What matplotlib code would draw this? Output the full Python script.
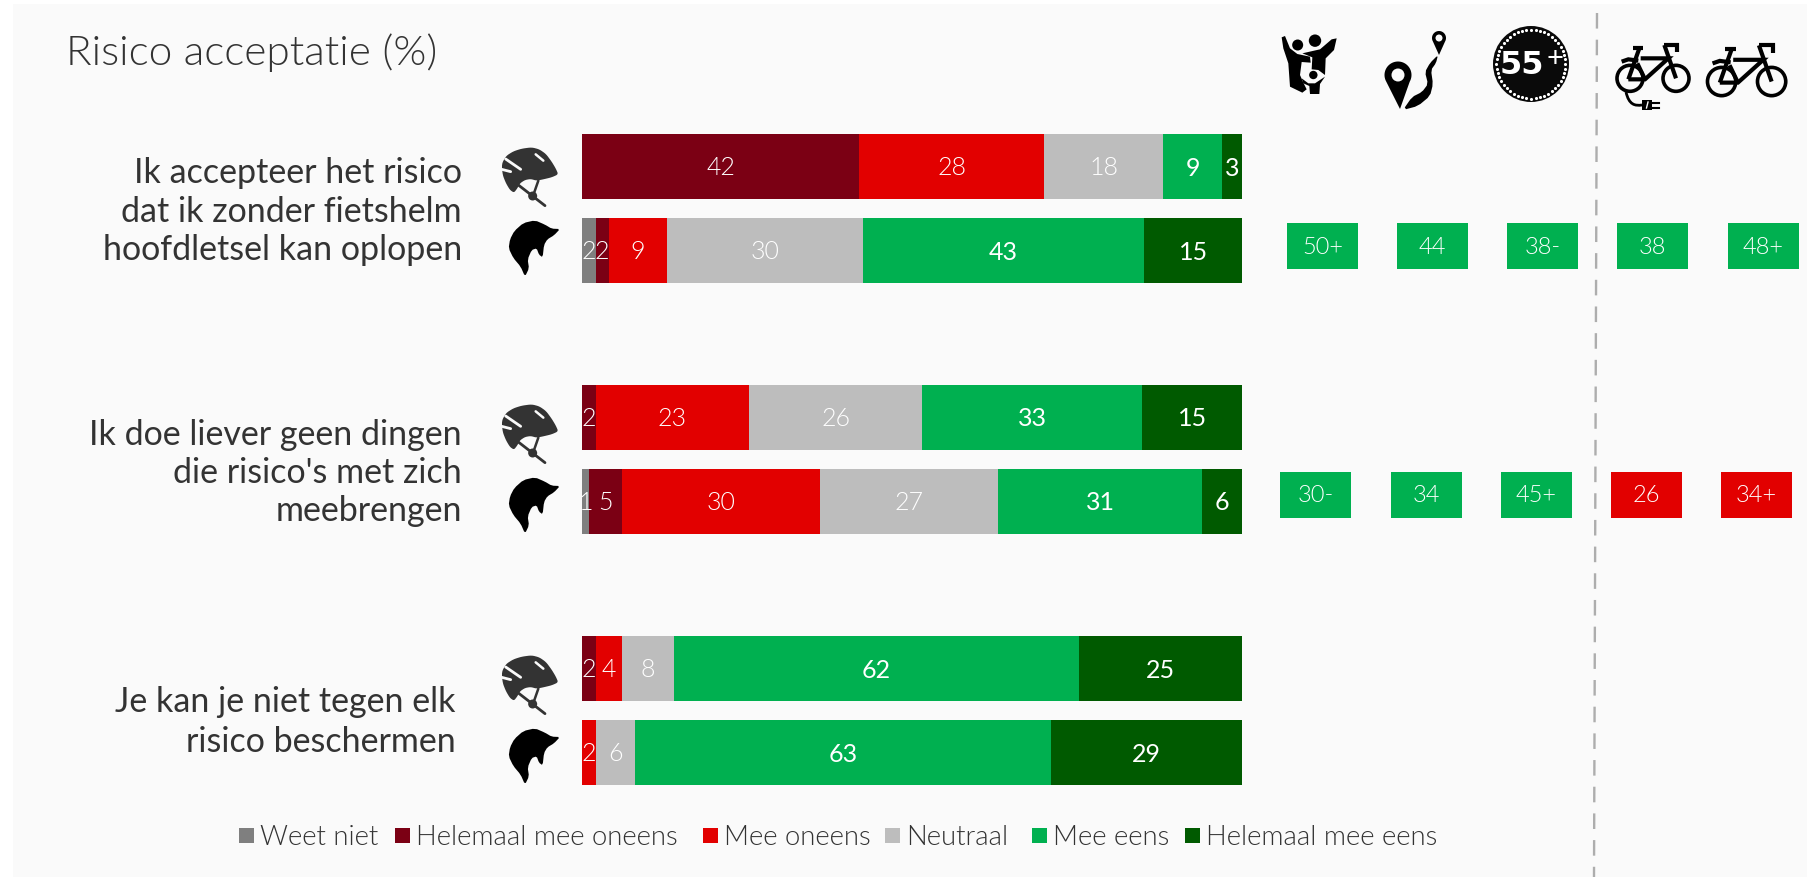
import numpy as np
import matplotlib
matplotlib.use("Agg")
import matplotlib.pyplot as plt
from matplotlib.patches import Rectangle, Circle, Polygon, PathPatch
from matplotlib.path import Path

W, H = 1808, 877
FONT = "Lato"
LIGHT = 300
TXT = "#333333"

# ---------- data ----------
categories = ["Weet niet", "Helemaal mee oneens", "Mee oneens", "Neutraal", "Mee eens", "Helemaal mee eens"]
colors = ["#7F7F7F", "#7B0014", "#E20000", "#BDBDBD", "#00B050", "#005A00"]
weet_niet = [0, 2, 0, 1, 0, 0]
helemaal_oneens = [42, 2, 2, 5, 2, 0]
mee_oneens = [28, 9, 23, 30, 4, 2]
neutraal = [18, 30, 26, 27, 8, 6]
mee_eens = [9, 43, 33, 31, 62, 63]
helemaal_eens = [3, 15, 15, 6, 25, 29]
series = [weet_niet, helemaal_oneens, mee_oneens, neutraal, mee_eens, helemaal_eens]

badges_q1 = ["50+", "44", "38-", "38", "48+"]
badges_q2 = ["30-", "34", "45+", "26", "34+"]
badge_cols_q1 = ["#00B050"] * 5
badge_cols_q2 = ["#00B050", "#00B050", "#00B050", "#E20000", "#E20000"]

title = "Risico acceptatie (%)"
q1 = ["Ik accepteer het risico", "dat ik zonder fietshelm", "hoofdletsel kan oplopen"]
q2 = ["Ik doe liever geen dingen", "die risico's met zich", "meebrengen"]
q3 = ["Je kan je niet tegen elk", "risico beschermen"]

# ---------- canvas ----------
fig = plt.figure(figsize=(W / 100, H / 100), dpi=100, facecolor="white")
ov = fig.add_axes([0, 0, 1, 1], zorder=1)
ov.set_xlim(0, W); ov.set_ylim(H, 0); ov.axis("off")
ov.add_patch(Rectangle((13, 4), W - 13, H - 4, fc="#FAFAFA", ec="none"))

# ---------- bars ----------
ax = fig.add_axes([582.5 / W, 0, 659.5 / W, 1], zorder=2)
ax.set_xlim(0, 1); ax.set_ylim(H, 0); ax.axis("off"); ax.patch.set_alpha(0)
values = np.array(series, dtype=float)
shares = values / values.sum(axis=0)
row_y = np.array([166.5 + g * 251 + r * 84 for g in range(3) for r in range(2)])
left = np.zeros(6)
for i, (sh, val) in enumerate(zip(shares, values)):
    ax.barh(row_y, sh, left=left, height=65, color=colors[i], linewidth=0)
    for y, l, s, v in zip(row_y, left, sh, val):
        if v > 0:
            ax.text(l + s / 2, y + 1.5, f"{int(v)}", ha="center", va="center", color="white",
                    family=FONT, fontsize=18, fontweight=400 if i >= 4 else LIGHT)
    left += sh

# ---------- text ----------
ov.text(66, 65, title, family=FONT, fontweight=LIGHT, fontsize=30.5, color=TXT, va="baseline", ha="left")
for lines, ys, xr in [(q1, [183, 222, 260], 462), (q2, [445, 483, 521], 462), (q3, [712, 752], 456)]:
    for s, y in zip(lines, ys):
        ov.text(xr, y, s, family=FONT, fontsize=24.5, color=TXT, va="baseline", ha="right")

# ---------- legend ----------
leg_sq = [239, 395, 703, 885, 1032, 1185]
for c, lab, x in zip(colors, categories, leg_sq):
    ov.add_patch(Rectangle((x, 828), 15.5, 15, fc=c, ec="none"))
    ov.text(x + 21, 845, lab, family=FONT, fontweight=LIGHT, fontsize=19.8, color=TXT, va="baseline")

# ---------- badges ----------
for labs, cols, xs, y0 in [(badges_q1, badge_cols_q1, [1287, 1397, 1507, 1617, 1728], 223),
                           (badges_q2, badge_cols_q2, [1280, 1391, 1501, 1611, 1721], 472)]:
    for s, c, x in zip(labs, cols, xs):
        ov.add_patch(Rectangle((x, y0), 71, 46, fc=c, ec="none"))
        ov.text(x + 35.5, y0 + 24, s, ha="center", va="center", color="white",
                family=FONT, fontweight=LIGHT, fontsize=17)

# ---------- divider ----------
ov.plot([1597, 1594], [13, 877], color="#ADADAD", lw=1.7, dashes=(6.6, 4.7))

# ---------- icons ----------
def zoomed(points, ox, oy, s=3.0, dx=0, dy=0):
    return [(ox + x / s + dx, oy + y / s + dy) for x, y in points]

def smooth(points, n=2):
    pts = np.array(points, dtype=float)
    for _ in range(n):
        nxt = np.roll(pts, -1, axis=0)
        pts = np.column_stack([0.8 * pts + 0.2 * nxt, 0.2 * pts + 0.8 * nxt]).reshape(-1, 2)
    return pts

def helmet(dy):
    ox, oy = 490, 140
    dome = [(35, 72), (48, 48), (70, 34), (95, 26), (125, 22), (148, 28), (168, 42), (185, 65), (197, 85), (205, 103),
            (185, 112), (160, 118), (140, 122), (122, 117), (105, 120), (90, 130), (82, 145), (72, 158),
            (60, 150), (48, 130), (38, 105)]
    ov.add_patch(Polygon(smooth(zoomed(dome, ox, oy, dy=dy)), fc="#333333", ec="none"))
    for a, b, c, lw in [((85, 135), (165, 197), "#333333", 2.0), ((145, 122), (130, 165), "#333333", 1.8),
                        ((47, 57), (92, 88), "#FAFAFA", 2.0), ((35, 88), (62, 95), "#FAFAFA", 2.0),
                        ((137, 43), (160, 62), "#FAFAFA", 1.8)]:
        p = zoomed([a, b], ox, oy, dy=dy)
        ov.plot(*zip(*p), color=c, lw=lw, solid_capstyle="round")
    ov.add_patch(Circle(zoomed([(128, 168)], ox, oy, dy=dy)[0], 4.5, fc="#333333", ec="none"))

def head(dy):
    pts = [(56, 325), (60, 298), (73, 273), (100, 249), (135, 241), (165, 254), (185, 266), (210, 267),
           (192, 286), (172, 298), (162, 315), (158, 352), (147, 344), (140, 325), (125, 330), (113, 358),
           (117, 385), (105, 410), (92, 380), (70, 354)]
    ov.add_patch(Polygon(smooth(zoomed(pts, 490, 140, dy=dy), 1), fc="black", ec="none"))

for d in (0, 257, 508):
    helmet(d)
    head(d)

# family
ox, oy = 1270, 20
for c, r in [((83, 75), 5.5), ((135, 62), 6.2), ((130, 165), 4.2)]:
    ov.add_patch(Circle(zoomed([c], ox, oy)[0], r, fc="black", ec="none"))
family = [[(35, 52), (45, 48), (60, 85), (82, 102), (120, 110), (122, 128), (95, 126), (90, 165), (100, 188),
           (110, 208), (97, 218), (60, 200), (55, 130), (40, 85)],
          [(200, 55), (192, 90), (167, 115), (165, 165), (145, 150), (125, 148), (127, 112), (97, 100), (150, 88), (185, 58)],
          [(95, 175), (115, 190), (135, 190), (165, 170), (150, 192), (148, 222), (120, 222), (118, 198), (100, 190)]]
for pts in family:
    ov.add_patch(Polygon(zoomed(pts, ox, oy), fc="black", ec="none"))

# route
def pin(cx, cy, r, tip, hole):
    a = np.radians(np.linspace(-30, 210, 40))
    pts = [(cx + r * np.cos(t), cy - r * np.sin(t)) for t in a] + [tip]
    ov.add_patch(Polygon(pts, fc="black", ec="none"))
    ov.add_patch(Circle((cx, cy), hole, fc="#FAFAFA", ec="none"))

pin(1398, 75, 13.5, (1400, 109), 6.5)
pin(1439, 38, 7, (1439, 55), 3.5)
ribbon = [(1403, 110), (1412, 97), (1422, 92), (1428, 84), (1425, 72), (1430, 63), (1438, 55), (1436, 63), (1431, 70),
          (1433, 84), (1430, 96), (1418, 106)]
ov.add_patch(Polygon(smooth(ribbon, 1), fc="black", ec="none"))

# 55+
ov.add_patch(Circle((1531, 64), 38, fc="#0A0A0A", ec="none"))
ang = np.linspace(0, 2 * np.pi, 48, endpoint=False)
ov.scatter(1531 + 34.5 * np.cos(ang), 64 + 34.5 * np.sin(ang), s=5, c="white", linewidths=0)
ov.text(1522, 66, "55", ha="center", va="center", color="white", family="DejaVu Sans", fontweight="bold", fontsize=23)
ov.text(1555, 59, "+", ha="center", va="center", color="white", family=FONT, fontweight=400, fontsize=21)

# bikes
def bike(ox, oy, s):
    P = lambda x, y: (ox + x * s / 3, oy + y * s / 3)
    lw = 2.6
    for cx in (90, 228):
        ov.add_patch(Circle(P(cx, 145), 39 * s / 3, fc="none", ec="black", lw=lw))
    segs = [[(100, 55), (130, 55)], [(118, 55), (85, 148)], [(85, 148), (135, 148), (205, 85), (122, 85)],
            [(112, 100), (135, 148)], [(193, 45), (228, 145)], [(193, 45), (232, 45), (232, 65)],
            [(65, 95), (85, 88), (115, 92)]]
    for seg in segs:
        ov.plot(*zip(*[P(*q) for q in seg]), color="black", lw=lw + 0.4, solid_capstyle="butt", solid_joinstyle="miter")

bike(1600, 30, 1.0)
bike(1689, 29, 1.087)
# cable and plug of the e-bike
ov.add_patch(PathPatch(Path([(1626, 92), (1629, 105), (1635, 106), (1642, 105)], [1, 4, 4, 4]),
                       fc="none", ec="black", lw=2))
ov.add_patch(Rectangle((1642, 100), 10, 10, fc="black", ec="none"))
ov.plot([1652, 1659], [102.5, 102.5], color="black", lw=1.5)
ov.plot([1652, 1659], [107.5, 107.5], color="black", lw=1.5)
ov.plot([1648, 1646.5], [102, 108], color="white", lw=1)

fig.savefig("out.png", dpi=100, facecolor="white")
